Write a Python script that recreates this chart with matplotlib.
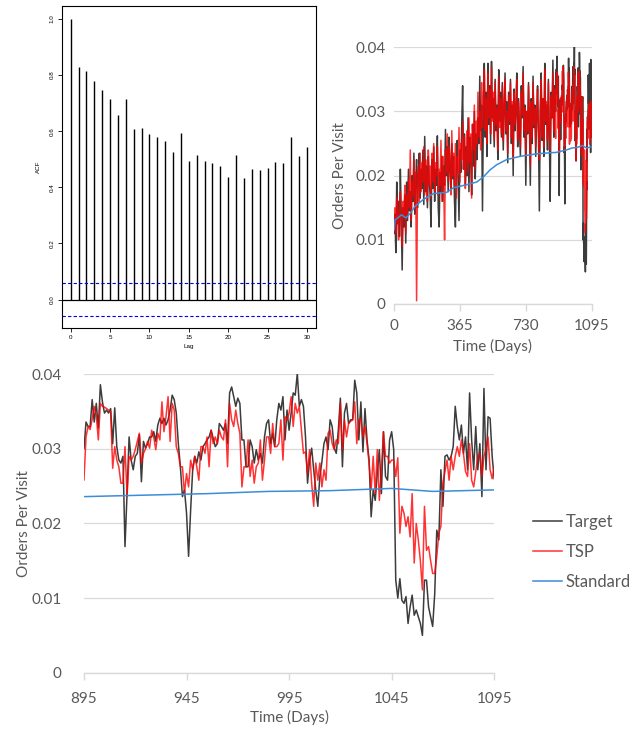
import numpy as np
import matplotlib
matplotlib.use("Agg")
import matplotlib.pyplot as plt

plt.rcParams['font.family'] = ['Lato', 'DejaVu Sans']

# ---- ACF (top left) ----
lags = np.arange(0, 31)
acf_vals = [1.000, 0.830, 0.813, 0.779, 0.747, 0.715, 0.656, 0.715, 0.609, 0.612,
            0.590, 0.578, 0.565, 0.526, 0.594, 0.493, 0.515, 0.493, 0.486, 0.477,
            0.437, 0.514, 0.433, 0.465, 0.461, 0.469, 0.492, 0.486, 0.581, 0.512,
            0.545]
acf_ci = 0.059

# ---- orders per visit, days 0..890 every 5 days ----
early_days = np.arange(0, 891, 5)
target_early = [
    0.0110, 0.0140, 0.0080, 0.0190, 0.0125, 0.0160, 0.0105, 0.0210, 0.0140, 0.0053,
    0.0150, 0.0120, 0.0170, 0.0095, 0.0190, 0.0130, 0.0210, 0.0145, 0.0175, 0.0120,
    0.0200, 0.0160, 0.0235, 0.0140, 0.0190, 0.0225, 0.0150, 0.0200, 0.0235, 0.0165,
    0.0210, 0.0180, 0.0240, 0.0155, 0.0261, 0.0175, 0.0215, 0.0150, 0.0230, 0.0190,
    0.0170, 0.0120, 0.0225, 0.0180, 0.0245, 0.0160, 0.0210, 0.0185, 0.0262, 0.0150,
    0.0120, 0.0205, 0.0175, 0.0230, 0.0160, 0.0215, 0.0185, 0.0272, 0.0200, 0.0245,
    0.0175, 0.0260, 0.0210, 0.0180, 0.0250, 0.0195, 0.0230, 0.0160, 0.0120, 0.0215,
    0.0255, 0.0190, 0.0130, 0.0240, 0.0205, 0.0280, 0.0340, 0.0210, 0.0265, 0.0185,
    0.0245, 0.0200, 0.0290, 0.0175, 0.0260, 0.0230, 0.0170, 0.0280, 0.0215, 0.0300,
    0.0195, 0.0265, 0.0225, 0.0290, 0.0250, 0.0355, 0.0270, 0.0310, 0.0145, 0.0300,
    0.0375, 0.0260, 0.0330, 0.0230, 0.0375, 0.0280, 0.0340, 0.0250, 0.0378, 0.0290,
    0.0320, 0.0245, 0.0350, 0.0270, 0.0310, 0.0225, 0.0365, 0.0285, 0.0330, 0.0260,
    0.0345, 0.0240, 0.0300, 0.0360, 0.0265, 0.0315, 0.0220, 0.0330, 0.0280, 0.0350,
    0.0250, 0.0310, 0.0200, 0.0335, 0.0270, 0.0300, 0.0360, 0.0245, 0.0320, 0.0275,
    0.0230, 0.0340, 0.0290, 0.0370, 0.0260, 0.0310, 0.0185, 0.0300, 0.0265, 0.0345,
    0.0280, 0.0185, 0.0320, 0.0250, 0.0355, 0.0275, 0.0310, 0.0230, 0.0290, 0.0340,
    0.0265, 0.0145, 0.0300, 0.0360, 0.0255, 0.0320, 0.0230, 0.0375, 0.0280, 0.0310,
    0.0240, 0.0350, 0.0270, 0.0160, 0.0330, 0.0290, 0.0380, 0.0260, 0.0340]
tsp_early = [
    0.0120, 0.0150, 0.0110, 0.0165, 0.0135, 0.0100, 0.0155, 0.0175, 0.0120, 0.0090,
    0.0160, 0.0135, 0.0185, 0.0110, 0.0170, 0.0140, 0.0195, 0.0150, 0.0240, 0.0130,
    0.0190, 0.0170, 0.0225, 0.0150, 0.0205, 0.0005, 0.0180, 0.0215, 0.0160, 0.0235,
    0.0175, 0.0220, 0.0190, 0.0245, 0.0170, 0.0225, 0.0195, 0.0160, 0.0240, 0.0185,
    0.0215, 0.0165, 0.0235, 0.0190, 0.0250, 0.0175, 0.0220, 0.0200, 0.0245, 0.0170,
    0.0210, 0.0185, 0.0255, 0.0160, 0.0230, 0.0195, 0.0100, 0.0240, 0.0205, 0.0265,
    0.0190, 0.0245, 0.0220, 0.0170, 0.0270, 0.0200, 0.0235, 0.0185, 0.0250, 0.0165,
    0.0230, 0.0205, 0.0275, 0.0190, 0.0250, 0.0225, 0.0285, 0.0210, 0.0260, 0.0180,
    0.0235, 0.0270, 0.0205, 0.0290, 0.0220, 0.0265, 0.0165, 0.0280, 0.0240, 0.0310,
    0.0210, 0.0285, 0.0250, 0.0330, 0.0260, 0.0300, 0.0240, 0.0345, 0.0275, 0.0315,
    0.0365, 0.0270, 0.0320, 0.0250, 0.0360, 0.0290, 0.0335, 0.0265, 0.0370, 0.0285,
    0.0330, 0.0255, 0.0345, 0.0280, 0.0305, 0.0240, 0.0355, 0.0275, 0.0320, 0.0265,
    0.0340, 0.0255, 0.0310, 0.0350, 0.0270, 0.0300, 0.0235, 0.0325, 0.0285, 0.0345,
    0.0260, 0.0315, 0.0225, 0.0330, 0.0280, 0.0305, 0.0350, 0.0255, 0.0315, 0.0280,
    0.0245, 0.0330, 0.0295, 0.0360, 0.0270, 0.0305, 0.0230, 0.0300, 0.0270, 0.0340,
    0.0285, 0.0215, 0.0315, 0.0260, 0.0345, 0.0280, 0.0305, 0.0245, 0.0295, 0.0335,
    0.0270, 0.0225, 0.0300, 0.0350, 0.0260, 0.0320, 0.0245, 0.0365, 0.0285, 0.0315,
    0.0255, 0.0345, 0.0275, 0.0240, 0.0325, 0.0290, 0.0360, 0.0270, 0.0335]

# ---- daily values, days 895..1095 ----
late_days = np.arange(895, 1096)
target_late = [
    0.0300, 0.0336, 0.0330, 0.0330, 0.0366, 0.0336, 0.0361, 0.0328, 0.0386, 0.0363,
    0.0348, 0.0352, 0.0348, 0.0354, 0.0307, 0.0355, 0.0303, 0.0285, 0.0281, 0.0290,
    0.0169, 0.0240, 0.0316, 0.0285, 0.0272, 0.0290, 0.0294, 0.0319, 0.0256, 0.0310,
    0.0301, 0.0307, 0.0316, 0.0316, 0.0323, 0.0310, 0.0332, 0.0341, 0.0334, 0.0341,
    0.0332, 0.0339, 0.0352, 0.0372, 0.0366, 0.0348, 0.0307, 0.0276, 0.0236, 0.0245,
    0.0214, 0.0156, 0.0218, 0.0272, 0.0290, 0.0281, 0.0296, 0.0285, 0.0303, 0.0307,
    0.0312, 0.0316, 0.0325, 0.0314, 0.0303, 0.0307, 0.0334, 0.0330, 0.0325, 0.0334,
    0.0307, 0.0375, 0.0383, 0.0370, 0.0357, 0.0368, 0.0361, 0.0312, 0.0312, 0.0276,
    0.0276, 0.0312, 0.0303, 0.0281, 0.0299, 0.0285, 0.0294, 0.0281, 0.0316, 0.0334,
    0.0339, 0.0307, 0.0321, 0.0303, 0.0339, 0.0361, 0.0352, 0.0370, 0.0312, 0.0352,
    0.0325, 0.0348, 0.0375, 0.0372, 0.0401, 0.0357, 0.0366, 0.0357, 0.0316, 0.0254,
    0.0285, 0.0301, 0.0272, 0.0245, 0.0223, 0.0263, 0.0283, 0.0307, 0.0316, 0.0299,
    0.0339, 0.0330, 0.0301, 0.0294, 0.0325, 0.0368, 0.0276, 0.0348, 0.0361, 0.0334,
    0.0339, 0.0339, 0.0392, 0.0375, 0.0312, 0.0363, 0.0296, 0.0354, 0.0312, 0.0285,
    0.0209, 0.0245, 0.0231, 0.0267, 0.0299, 0.0240, 0.0323, 0.0263, 0.0258, 0.0312,
    0.0323, 0.0299, 0.0124, 0.0100, 0.0126, 0.0097, 0.0093, 0.0102, 0.0066, 0.0088,
    0.0104, 0.0077, 0.0084, 0.0075, 0.0066, 0.0050, 0.0124, 0.0124, 0.0088, 0.0075,
    0.0062, 0.0106, 0.0191, 0.0178, 0.0272, 0.0223, 0.0290, 0.0292, 0.0285, 0.0290,
    0.0303, 0.0357, 0.0330, 0.0312, 0.0332, 0.0294, 0.0316, 0.0272, 0.0375, 0.0312,
    0.0272, 0.0330, 0.0272, 0.0307, 0.0236, 0.0381, 0.0272, 0.0343, 0.0341, 0.0290,
    0.0260]
tsp_late = [
    0.0258, 0.0316, 0.0330, 0.0326, 0.0340, 0.0357, 0.0345, 0.0312, 0.0361, 0.0357,
    0.0356, 0.0354, 0.0352, 0.0350, 0.0274, 0.0303, 0.0285, 0.0276, 0.0254, 0.0254,
    0.0303, 0.0236, 0.0290, 0.0285, 0.0290, 0.0299, 0.0310, 0.0321, 0.0281, 0.0294,
    0.0300, 0.0310, 0.0301, 0.0325, 0.0316, 0.0299, 0.0321, 0.0312, 0.0363, 0.0323,
    0.0343, 0.0370, 0.0310, 0.0361, 0.0352, 0.0303, 0.0294, 0.0276, 0.0276, 0.0240,
    0.0267, 0.0249, 0.0285, 0.0272, 0.0290, 0.0276, 0.0258, 0.0303, 0.0303, 0.0294,
    0.0316, 0.0276, 0.0325, 0.0307, 0.0316, 0.0307, 0.0325, 0.0316, 0.0312, 0.0339,
    0.0276, 0.0361, 0.0339, 0.0330, 0.0352, 0.0334, 0.0321, 0.0249, 0.0276, 0.0276,
    0.0312, 0.0263, 0.0285, 0.0254, 0.0276, 0.0281, 0.0312, 0.0258, 0.0285, 0.0316,
    0.0316, 0.0294, 0.0334, 0.0303, 0.0303, 0.0307, 0.0339, 0.0285, 0.0343, 0.0339,
    0.0348, 0.0370, 0.0330, 0.0361, 0.0348, 0.0357, 0.0325, 0.0294, 0.0296, 0.0267,
    0.0299, 0.0254, 0.0223, 0.0281, 0.0258, 0.0281, 0.0249, 0.0272, 0.0258, 0.0321,
    0.0325, 0.0307, 0.0299, 0.0312, 0.0307, 0.0361, 0.0299, 0.0339, 0.0316, 0.0334,
    0.0337, 0.0339, 0.0363, 0.0307, 0.0339, 0.0341, 0.0316, 0.0330, 0.0307, 0.0281,
    0.0245, 0.0290, 0.0240, 0.0299, 0.0231, 0.0272, 0.0323, 0.0290, 0.0290, 0.0281,
    0.0285, 0.0285, 0.0263, 0.0288, 0.0187, 0.0223, 0.0214, 0.0196, 0.0209, 0.0182,
    0.0240, 0.0147, 0.0200, 0.0178, 0.0150, 0.0111, 0.0223, 0.0164, 0.0169, 0.0150,
    0.0133, 0.0133, 0.0156, 0.0187, 0.0196, 0.0254, 0.0270, 0.0285, 0.0258, 0.0290,
    0.0272, 0.0290, 0.0303, 0.0290, 0.0312, 0.0294, 0.0270, 0.0263, 0.0307, 0.0258,
    0.0249, 0.0270, 0.0290, 0.0294, 0.0263, 0.0290, 0.0300, 0.0316, 0.0272, 0.0260,
    0.0276]

# standard model, sparse readings
std_days = [0, 6, 42, 66, 89, 116, 163, 218, 292, 329, 403, 458, 495, 532, 569,
            624, 698, 790, 883, 895, 925, 955, 985, 1015, 1045, 1065, 1095]
std_vals = [0.0115, 0.0131, 0.0139, 0.0134, 0.0141, 0.0152, 0.0163, 0.0172, 0.0174,
            0.0181, 0.0186, 0.0190, 0.0198, 0.0209, 0.0217, 0.0225, 0.0230, 0.0234,
            0.0236, 0.0236, 0.0238, 0.0240, 0.0243, 0.0244, 0.0247, 0.0243, 0.0245]

days = np.concatenate([early_days, late_days])
target = np.array(target_early + target_late)
tsp = np.array(tsp_early + tsp_late)

c_target = '#3c3c3c'
c_tsp = '#ff0000'
c_std = '#3a8dd8'
c_text = '#595959'
c_grid = '#d9d9d9'

fig = plt.figure(figsize=(6.41, 7.30), dpi=100)

# ---- ACF panel ----
ax0 = fig.add_axes([0.0963, 0.5507, 0.397, 0.4415])
ax0.vlines(lags, 0, acf_vals, color='black', lw=1.0)
ax0.axhline(0, color='black', lw=0.9)
ax0.axhline(acf_ci, color='#0000ee', lw=0.8, ls=(0, (3, 2)))
ax0.axhline(-acf_ci, color='#0000ee', lw=0.8, ls=(0, (3, 2)))
ax0.set_xlim(-1.14, 31.18)
ax0.set_ylim(-0.101, 1.047)
ax0.set_xticks(range(0, 31, 5))
ax0.set_yticks(np.arange(0, 1.01, 0.2))
ax0.set_yticklabels(['0.0', '0.2', '0.4', '0.6', '0.8', '1.0'], rotation=90, va='center')
ax0.tick_params(labelsize=4.5, length=3, width=0.6, pad=2)
for lab in ax0.get_xticklabels() + ax0.get_yticklabels():
    lab.set_family(['Liberation Sans', 'DejaVu Sans'])
ax0.set_xlabel('Lag', fontsize=4.5, family=['Liberation Sans'], labelpad=3)
ax0.set_ylabel('ACF', fontsize=4.5, family=['Liberation Sans'], labelpad=6)
for s in ax0.spines.values():
    s.set_linewidth(0.8)


def excel_style(ax, xticks):
    ax.set_ylim(0, 0.04)
    ax.set_yticks([0, 0.01, 0.02, 0.03, 0.04])
    ax.set_yticklabels(['0', '0.01', '0.02', '0.03', '0.04'])
    ax.yaxis.grid(True, color=c_grid, lw=0.9)
    ax.set_axisbelow(True)
    for s in ['top', 'right', 'left']:
        ax.spines[s].set_visible(False)
    ax.spines['bottom'].set_color(c_grid)
    ax.spines['bottom'].set_linewidth(1.0)
    ax.set_xticks(xticks)
    ax.tick_params(axis='y', length=0, labelsize=11, labelcolor=c_text)
    ax.tick_params(axis='x', length=5, color=c_grid, width=1.0,
                   labelsize=11, labelcolor=c_text, pad=8)
    ax.set_ylabel('Orders Per Visit', fontsize=11, color=c_text)
    ax.set_xlabel('Time (Days)', fontsize=11, color=c_text)


# ---- full series (top right) ----
ax1 = fig.add_axes([0.6147, 0.5836, 0.3084, 0.3516])
ax1.plot(days, target, color=c_target, lw=1.1)
ax1.plot(days, tsp, color=c_tsp, lw=1.1, alpha=0.8)
ax1.plot(std_days, std_vals, color=c_std, lw=1.1)
ax1.set_xlim(0, 1095)
excel_style(ax1, [0, 365, 730, 1095])
ax1.tick_params(axis='y', pad=6)
ax1.tick_params(axis='x', pad=6)
ax1.yaxis.labelpad = 6

# ---- last 200 days (bottom) ----
ax2 = fig.add_axes([0.131, 0.0785, 0.640, 0.4088])
ax2.plot(days, target, color=c_target, lw=1.1, label='Target')
ax2.plot(days, tsp, color=c_tsp, lw=1.1, alpha=0.8, label='TSP')
ax2.plot(std_days, std_vals, color=c_std, lw=1.1, label='Standard')
ax2.set_xlim(895, 1095)
excel_style(ax2, [895, 945, 995, 1045, 1095])
ax2.tick_params(axis='y', pad=16)
ax2.tick_params(axis='x', pad=9)
ax2.yaxis.labelpad = 0
ax2.xaxis.labelpad = 3

leg = fig.legend(*ax2.get_legend_handles_labels(), loc='center left',
                 bbox_to_anchor=(0.808, 0.2438), frameon=False, fontsize=12,
                 handlelength=1.75, handletextpad=0.2, labelspacing=0.85)
for t in leg.get_texts():
    t.set_color(c_text)

fig.savefig('out.png', dpi=100)
